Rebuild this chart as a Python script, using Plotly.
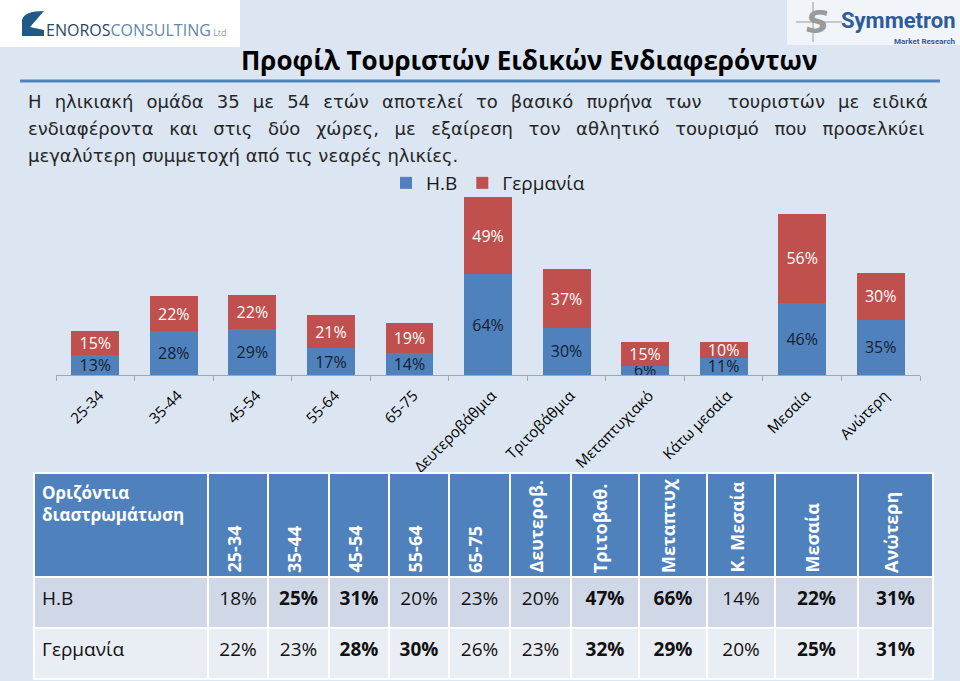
import plotly.graph_objects as go

W, H = 960, 681

# ---------------- data ----------------
categories = ['25-34', '35-44', '45-54', '55-64', '65-75', 'Δευτεροβάθμια',
              'Τριτοβάθμια', 'Μεταπτυχιακό', 'Κάτω μεσαία', 'Μεσαία', 'Ανώτερη']
uk_values = [13, 28, 29, 17, 14, 64, 30, 6, 11, 46, 35]
de_values = [15, 22, 22, 21, 19, 49, 37, 15, 10, 56, 30]
series_names = ['Η.Β', 'Γερμανία']

table_corner = 'Οριζόντια<br>διαστρωμάτωση'
table_columns = ['25-34', '35-44', '45-54', '55-64', '65-75', 'Δευτεροβ.',
                 'Τριτοβαθ.', 'Μεταπτυχ', 'Κ. Μεσαία', 'Μεσαία', 'Ανώτερη']
table_rows = ['Η.Β', 'Γερμανία']
table_uk = [18, 25, 31, 20, 23, 20, 47, 66, 14, 22, 31]
table_de = [22, 23, 28, 30, 26, 23, 32, 29, 20, 25, 31]
table_uk_bold = [False, True, True, False, False, False, True, True, False, True, True]
table_de_bold = [False, False, True, True, False, False, True, True, False, True, True]

title_text = 'Προφίλ Τουριστών Ειδικών Ενδιαφερόντων'
paragraph_lines = [
    'Η ηλικιακή ομάδα 35 με 54 ετών αποτελεί το βασικό πυρήνα των\u00a0 τουριστών με ειδικά',
    'ενδιαφέροντα και στις δύο χώρες, με εξαίρεση τον αθλητικό τουρισμό που προσελκύει',
    'μεγαλύτερη συμμετοχή από τις νεαρές ηλικίες.',
]
# extra inter-word spacing in px (the first two lines are justified in the original)
paragraph_word_spacing = [7.4, 9.9, 0]

# ---------------- styles / layout constants ----------------
BLUE = '#4f81bd'
RED = '#c0504d'
BG = '#dce6f2'
FONT = 'Open Sans'


def px_x(x):
    return x / W


def px_y(y):
    return 1 - y / H


fig = go.Figure()

fig.add_trace(go.Bar(
    x=categories, y=uk_values, name=series_names[0],
    marker=dict(color=BLUE, line=dict(width=0)),
    text=[f'{v}%' for v in uk_values], textposition='inside',
    insidetextanchor='middle', constraintext='none', textangle=0,
    textfont=dict(family=FONT, size=16, color='#141e30'),
    hoverinfo='skip'))
fig.add_trace(go.Bar(
    x=categories, y=de_values, name=series_names[1],
    marker=dict(color=RED, line=dict(width=0)),
    text=[f'{v}%' for v in de_values], textposition='inside',
    insidetextanchor='middle', constraintext='none', textangle=0,
    textfont=dict(family=FONT, size=16, color='white'),
    hoverinfo='skip'))

# ---------------- table ----------------
col_widths = [174, 60, 61, 60, 60, 61, 61, 68, 68, 68, 83, 75]
TABLE_X0, TABLE_TOP = 34, 473
HEADER_H, ROW_H = 104, 51


def fmt(v, b):
    s = f'{v}%'
    return f'<b>{s}</b>' if b else f'<span>{s}</span>'


cell_values = [[f'<span>{r}</span>' for r in table_rows]] + [
    [fmt(table_uk[i], table_uk_bold[i]), fmt(table_de[i], table_de_bold[i])]
    for i in range(len(table_columns))]
row_fill = ['#d0d8e8', '#e9edf4']

fig.add_trace(go.Table(
    domain=dict(x=[px_x(TABLE_X0), px_x(TABLE_X0 + sum(col_widths))],
                y=[0, px_y(TABLE_TOP)]),
    columnwidth=col_widths,
    header=dict(values=[f'<b>{table_corner}</b>'] + [''] * len(table_columns),
                height=HEADER_H,
                align=['left'] + ['center'] * len(table_columns),
                fill=dict(color=BLUE),
                line=dict(color='white', width=2),
                font=dict(family=FONT, size=17, color='white')),
    cells=dict(values=cell_values, height=ROW_H,
               align=['left'] + ['center'] * len(table_columns),
               fill=dict(color=[row_fill] * len(col_widths)),
               line=dict(color='white', width=2),
               font=dict(family=FONT, size=19, color='#111111')),
))

annotations = []
# rotated header labels
xcur = TABLE_X0 + col_widths[0]
for i, lab in enumerate(table_columns):
    w = col_widths[i + 1]
    cx = xcur + w / 2 - 5
    xcur += w
    annotations.append(dict(
        text=f'<b>{lab}</b>', x=px_x(cx), y=px_y(575), xref='paper', yref='paper',
        xanchor='center', yanchor='bottom', textangle=-90, showarrow=False,
        font=dict(family=FONT, size=18, color='white')))

# title & paragraph
annotations.append(dict(
    text=f'<b>{title_text}</b>', x=px_x(529), y=px_y(60), xref='paper', yref='paper',
    xanchor='center', yanchor='middle', showarrow=False,
    font=dict(family=FONT, size=26, color='#000000')))
for k, line in enumerate(paragraph_lines):
    ws = paragraph_word_spacing[k]
    txt = f'<span style="word-spacing:{ws}px">{line}</span>' if ws else line
    annotations.append(dict(
        text=txt, x=px_x(26), y=px_y(101 + 27 * k),
        xref='paper', yref='paper', xanchor='left', yanchor='middle',
        showarrow=False, font=dict(family='DejaVu Sans', size=18, color='#262626')))

# logos (approximation as text)
annotations.append(dict(
    text='<span style="color:#27486a">ENOROS</span><span style="color:#5f88ad">CONSULTING</span>'
         '<span style="color:#8a9aaa;font-size:9px"> Ltd</span>',
    x=px_x(44), y=px_y(30), xref='paper', yref='paper', xanchor='left', yanchor='middle',
    showarrow=False, font=dict(family='Open Sans', size=16)))
annotations.append(dict(
    text='<b>Symmetron</b>', x=px_x(958), y=px_y(20), xref='paper', yref='paper',
    xanchor='right', yanchor='middle', showarrow=False,
    font=dict(family='Roboto', size=22, color='#2e5c9a')))
annotations.append(dict(
    text='<b>Market Research</b>', x=px_x(958), y=px_y(41), xref='paper', yref='paper',
    xanchor='right', yanchor='middle', showarrow=False,
    font=dict(family='Roboto', size=8, color='#2e5c9a')))
annotations.append(dict(
    text='<i><b>S</b></i>', x=px_x(817), y=px_y(22), xref='paper', yref='paper',
    xanchor='center', yanchor='middle', showarrow=False,
    font=dict(family='DejaVu Sans', size=32, color='#9a9a9a')))

shapes = [
    dict(type='rect', xref='paper', yref='paper', x0=0, x1=px_x(240), y0=px_y(47), y1=1,
         fillcolor='white', line=dict(width=0), layer='below'),
    dict(type='rect', xref='paper', yref='paper', x0=px_x(787), x1=1, y0=px_y(45), y1=1,
         fillcolor='#f1f4f9', line=dict(width=0), layer='below'),
    dict(type='path', xref='paper', yref='paper',
         path=f'M {px_x(22)},{px_y(36)} L {px_x(22)},{px_y(20)} Q {px_x(24)},{px_y(11)} {px_x(44)},{px_y(11)} '
              f'L {px_x(30)},{px_y(27)} L {px_x(44)},{px_y(30)} L {px_x(44)},{px_y(36)} Z',
         fillcolor='#1f5a86', line=dict(width=0)),
    dict(type='line', xref='paper', yref='paper', x0=px_x(796), x1=px_x(842), y0=px_y(22), y1=px_y(22),
         line=dict(color='#9a9a9a', width=1)),
    dict(type='line', xref='paper', yref='paper', x0=px_x(813), x1=px_x(813), y0=px_y(2), y1=px_y(42),
         line=dict(color='#9a9a9a', width=1)),
    dict(type='line', xref='paper', yref='paper', x0=px_x(20), x1=px_x(940), y0=px_y(81), y1=px_y(81),
         line=dict(color=BLUE, width=3)),
]

BASE_Y = 375
PX_PER_UNIT = 1.575
Y_MAX = 120

fig.update_layout(
    width=W, height=H, autosize=False,
    margin=dict(l=0, r=0, t=0, b=0),
    paper_bgcolor=BG, plot_bgcolor='rgba(0,0,0,0)',
    barmode='stack', bargap=0.39,
    font=dict(family=FONT, color='#000000'),
    showlegend=True,
    legend=dict(orientation='h', x=px_x(386), y=px_y(183), xanchor='left', yanchor='middle',
                font=dict(family=FONT, size=19, color='#1a1a1a'),
                bgcolor='rgba(0,0,0,0)', traceorder='normal'),
    xaxis=dict(domain=[px_x(56), px_x(920)], type='category',
               showline=True, linecolor='#a6a6a6', linewidth=1,
               ticks='outside', tickson='boundaries', ticklen=5, tickcolor='#a6a6a6',
               tickangle=-45, ticklabelstandoff=5, ticklabelshift=4,
               tickfont=dict(family=FONT, size=15, color='#000000'),
               showgrid=False, fixedrange=True),
    yaxis=dict(domain=[px_y(BASE_Y), px_y(BASE_Y - Y_MAX * PX_PER_UNIT)],
               range=[0, Y_MAX], visible=False, fixedrange=True),
    annotations=annotations,
    shapes=shapes,
)

fig.write_html('out.html', config={'displayModeBar': False},
               post_script="document.body.style.margin='0';")
